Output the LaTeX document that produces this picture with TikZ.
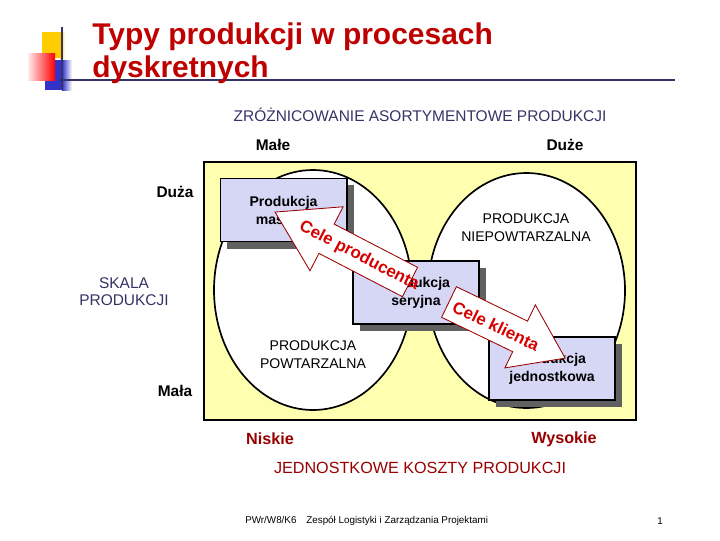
\documentclass[tikz,border=0pt]{standalone}
\usepackage{fontspec}
\setmainfont{Liberation Sans}
\usetikzlibrary{shadows}

\definecolor{titlered}{RGB}{190,0,0}
\definecolor{costred}{RGB}{153,0,0}
\definecolor{celered}{RGB}{215,0,0}
\definecolor{navy}{RGB}{51,51,102}
\definecolor{yellowbg}{RGB}{255,255,176}
\definecolor{lavender}{RGB}{214,214,245}
\definecolor{shadowgray}{RGB}{96,96,96}
\definecolor{decoyellow}{RGB}{255,204,0}
\definecolor{decoblue}{RGB}{51,51,204}

\begin{document}
\begin{tikzpicture}[x=0.025cm,y=-0.025cm]
		\tikzset{>=latex}
		\tikzset{
			prodbox/.style={draw=black,line width=1.4pt,fill=lavender,
				minimum width=3.15cm,minimum height=1.575cm,inner sep=0pt,align=center,
				font=\fontsize{10}{12.8}\selectfont\bfseries,
				drop shadow={shadow xshift=0.175cm,shadow yshift=-0.175cm,fill=shadowgray,opacity=1}},
			ellbl/.style={align=center,font=\fontsize{10}{12.8}\selectfont},
			axlbl/.style={font=\fontsize{11}{13}\selectfont\bfseries},
			navylbl/.style={text=navy,align=center,font=\fontsize{11}{12.2}\selectfont},
			costlbl/.style={text=costred,font=\fontsize{11.5}{14}\selectfont\bfseries},
			celelbl/.style={text=celered,font=\fontsize{12}{14}\selectfont\bfseries},
			bigarrow/.style={fill=white,draw=costred,line width=0.6pt}
		}
		\useasboundingbox (0,0) rectangle (720,540);
		% title decoration
		\fill[decoyellow] (42,32) rectangle (60,58);
		\shade[left color=decoyellow,right color=white] (60,32) rectangle (65,58);
		\fill[decoblue] (45,60) rectangle (62,90);
		\shade[left color=decoblue,right color=white] (62,60) rectangle (72,90);
		\shade[left color=red!8,right color=red] (28,53) rectangle (55,80);
		\draw[navy,line width=1.5pt] (62,27) -- (62,90);
		\draw[navy,line width=1.5pt] (60,80) -- (675,80);
		\node[anchor=base west,text=titlered,font=\fontsize{21.3}{24}\selectfont\bfseries,inner sep=0pt] (title1) at (92,44) {Typy produkcji w procesach};
		\node[anchor=base west,text=titlered,font=\fontsize{21.3}{24}\selectfont\bfseries,inner sep=0pt] (title2) at (92,77) {dyskretnych};
		% axis labels
		\node[navylbl] (zroz) at (420,115) {ZRÓŻNICOWANIE ASORTYMENTOWE PRODUKCJI};
		\node[axlbl] (male) at (273,145) {Małe};
		\node[axlbl] (duze) at (565,145) {Duże};
		\node[axlbl] (duza) at (175,192) {Duża};
		\node[navylbl] (skala) at (124,292) {SKALA\\PRODUKCJI};
		\node[axlbl] (mala) at (175,391) {Mała};
		% field and ellipses
		\draw[fill=yellowbg,line width=1.3pt] (204,162) rectangle (636,420);
		\draw[fill=white,line width=1.2pt] (313,290) ellipse [x radius=99,y radius=120];
		\draw[fill=white,line width=1.2pt] (526.5,290.5) ellipse [x radius=98.5,y radius=117.5];
		\node[ellbl] (npow) at (526,228) {PRODUKCJA\\NIEPOWTARZALNA};
		\node[ellbl] (pow) at (313,355) {PRODUKCJA\\POWTARZALNA};
		% types of production
		\node[prodbox] (masowa) at (283.5,210) {Produkcja\\masowa};
		\node[prodbox] (seryjna) at (416,292.5) {Produkcja\\seryjna};
		\node[prodbox] (jedn) at (552,368.5) {Produkcja\\jednostkowa};
		% block arrows
		\coordinate (ptail) at (410,282);
		\coordinate (ktail) at (449,302);
		\begin{scope}[shift={(ptail)},rotate=152.6]
			\draw[bigarrow] (0,-16.5) -- (94,-16.5) -- (94,-36) -- (152,0) -- (94,36) -- (94,16.5) -- (0,16.5) -- cycle;
		\end{scope}
		\begin{scope}[shift={(ktail)},rotate=-25.8]
			\draw[bigarrow] (0,-17) -- (79,-17) -- (79,-35) -- (129,0) -- (79,35) -- (79,17) -- (0,17) -- cycle;
		\end{scope}
		\node[celelbl,rotate=-27.4] (producenta) at (359,256) {Cele producenta};
		\node[celelbl,rotate=-25.8] (klienta) at (496,326) {Cele klienta};
		% costs
		\node[costlbl] (niskie) at (270,439) {Niskie};
		\node[costlbl] (wysokie) at (564,439) {Wysokie};
		\node[text=costred,font=\fontsize{11.5}{14}\selectfont] (koszty) at (420,468) {JEDNOSTKOWE KOSZTY PRODUKCJI};
		% footer
		\node[anchor=west,inner sep=0pt,font=\fontsize{7}{8}\selectfont] (stopka) at (245,521) {PWr/W8/K6\quad Zespół Logistyki i Zarządzania Projektami};
		\node[font=\fontsize{7}{8}\selectfont] (nr) at (660,521) {1};
\end{tikzpicture}
\end{document}
